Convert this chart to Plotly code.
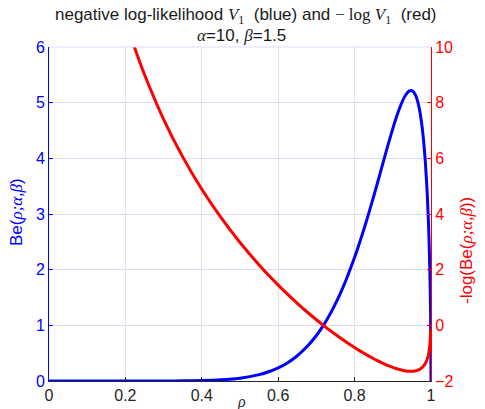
import plotly.graph_objects as go

# rho sample points
rho = [0.0, 0.1, 0.2, 0.22, 0.25, 0.3, 0.35, 0.4, 0.45, 0.5, 0.55, 0.575, 0.6,
       0.625, 0.65, 0.675, 0.7, 0.72, 0.735, 0.75, 0.765, 0.78, 0.8, 0.81, 0.82,
       0.83, 0.84, 0.85, 0.86, 0.87, 0.88, 0.89, 0.9, 0.91, 0.92, 0.93, 0.94,
       0.945, 0.95, 0.955, 0.96, 0.965, 0.97, 0.975, 0.98, 0.985, 0.99, 0.993,
       0.995, 0.997, 0.998, 0.999, 1.0]
# Beta density Be(rho; 10, 1.5) (blue, left axis)
be_pdf = [0.0, 0.0, 0.0000169, 0.0000394, 0.000122, 0.00061, 0.00235, 0.00752,
          0.0208, 0.0511, 0.1143, 0.1657, 0.2358, 0.3297, 0.4534, 0.6137, 0.8178,
          1.018, 1.1923, 1.389, 1.6095, 1.855, 2.221, 2.4207, 2.631, 2.8518, 3.082,
          3.319, 3.562, 3.8093, 4.056, 4.2996, 4.533, 4.750, 4.941, 5.095, 5.193,
          5.215, 5.214, 5.186, 5.125, 5.023, 4.872, 4.658, 4.363, 3.955, 3.380,
          2.906, 2.501, 1.973, 1.625, 1.160, 0.0]
# negative log density (red, right axis); None where undefined
neg_log = [None, 22.9, 10.986, 10.141, 9.010, 7.403, 6.053, 4.891, 3.875, 2.974,
           2.169, 1.797, 1.445, 1.110, 0.791, 0.488, 0.201, -0.018, -0.176, -0.329,
           -0.476, -0.618, -0.798, -0.884, -0.967, -1.048, -1.125, -1.200, -1.270,
           -1.337, -1.400, -1.458, -1.511, -1.558, -1.598, -1.628, -1.647,
           -1.652, -1.651, -1.646, -1.634, -1.614, -1.584, -1.539, -1.473,
           -1.375, -1.218, -1.067, -0.917, -0.679, -0.486, -0.148, None]

x_ticks = [0, 0.2, 0.4, 0.6, 0.8, 1]
x_labels = ["0", "0.2", "0.4", "0.6", "0.8", "1"]
y1_ticks = [0, 1, 2, 3, 4, 5, 6]
y2_ticks = [-2, 0, 2, 4, 6, 8, 10]

FONT = "Liberation Sans, Arial, Helvetica, sans-serif"
SERIF = "Liberation Serif, DejaVu Serif, serif"
BLUE = "#0000ff"
RED = "#ff0000"

OFF = 8  # page body margin
W, H = 485 - OFF, 409 - OFF
L, T = 49 - OFF, 47 - OFF
R = W - (431 - OFF)
B = H - (381 - OFF)
PW, PH = W - L - R, H - T - B


def px_x(px):
    return (px - OFF - L) / PW


def px_y(py):
    return (H - B - (py - OFF)) / PH


def m(s, italic=True):
    t = f"<i>{s}</i>" if italic else s
    return f"<span style='font-family:{SERIF}'>{t}</span>"


V1 = m("V") + f"<span style='font-family:{SERIF}'><sub>1</sub></span>"
title1 = ("negative log-likelihood " + V1 + "\u00a0 (blue) and " + m("\u2212\u00a0log\u00a0", False)
          + V1 + "\u00a0 (red)")
title2 = m("\u03b1") + "=10, " + m("\u03b2") + "=1.5"
ylab1 = "Be(" + m("\u03c1;\u03b1,\u03b2") + ")"
ylab2 = "-log(Be(" + m("\u03c1;\u03b1,\u03b2") + "))"

fig = go.Figure()
fig.add_trace(go.Scatter(x=rho, y=be_pdf, mode="lines",
                         line=dict(color=BLUE, width=3, shape="spline", smoothing=0.6),
                         yaxis="y", showlegend=False))
fig.add_trace(go.Scatter(x=rho, y=neg_log, mode="lines",
                         line=dict(color=RED, width=3, shape="spline", smoothing=0.6),
                         yaxis="y2", showlegend=False, connectgaps=False))

fig.update_layout(
    width=W, height=H,
    margin=dict(l=L, r=R, t=T, b=B, autoexpand=False),
    paper_bgcolor="white", plot_bgcolor="white",
    font=dict(family=FONT, size=16, color="#262626"),
    xaxis=dict(range=[0, 1], tickvals=x_ticks, ticktext=x_labels,
               showgrid=True, gridcolor="#e3e3e3", gridwidth=1, zeroline=False,
               showline=True, linecolor="#262626", linewidth=1,
               ticks="inside", ticklen=4, tickcolor="#262626", automargin=False,
               tickfont=dict(size=16, color="#262626")),
    yaxis=dict(range=[0, 6], tickvals=y1_ticks, showgrid=True, gridcolor="#dcdcf8",
               zeroline=False, showline=True, linecolor=BLUE, linewidth=1,
               ticks="inside", ticklen=4, tickcolor=BLUE, automargin=False,
               tickfont=dict(size=16, color=BLUE)),
    yaxis2=dict(range=[-2, 10], tickvals=y2_ticks, overlaying="y", side="right",
                showgrid=False, zeroline=False, showline=True, linecolor=RED, linewidth=1,
                ticks="inside", ticklen=4, tickcolor=RED, automargin=False,
                tickfont=dict(size=16, color=RED)),
    shapes=[dict(type="line", xref="paper", yref="paper", x0=0, x1=1, y0=1, y1=1,
                 line=dict(color="#dcdcf8", width=1))],
    annotations=[
        dict(text=title1, xref="paper", yref="paper", x=px_x(246), y=px_y(16),
             xanchor="center", yanchor="middle", showarrow=False, borderpad=0,
             font=dict(family=FONT, size=17, color="#1a1a1a")),
        dict(text=title2, xref="paper", yref="paper", x=px_x(242), y=px_y(36),
             xanchor="center", yanchor="middle", showarrow=False, borderpad=0,
             font=dict(family=FONT, size=17, color="#1a1a1a")),
        dict(text=m("\u03c1"), xref="paper", yref="paper", x=px_x(241), y=px_y(402),
             xanchor="center", yanchor="middle", showarrow=False,
             font=dict(family=FONT, size=16, color="#262626")),
        dict(text=ylab1, xref="paper", yref="paper",
             x=px_x(17), y=px_y(212), xanchor="center", yanchor="middle", textangle=-90,
             showarrow=False, font=dict(family=FONT, size=17, color=BLUE)),
        dict(text=ylab2, xref="paper", yref="paper",
             x=px_x(466), y=px_y(250), xanchor="center", yanchor="middle", textangle=-90,
             showarrow=False, font=dict(family=FONT, size=17, color=RED)),
    ],
)

fig.write_html("out.html")
